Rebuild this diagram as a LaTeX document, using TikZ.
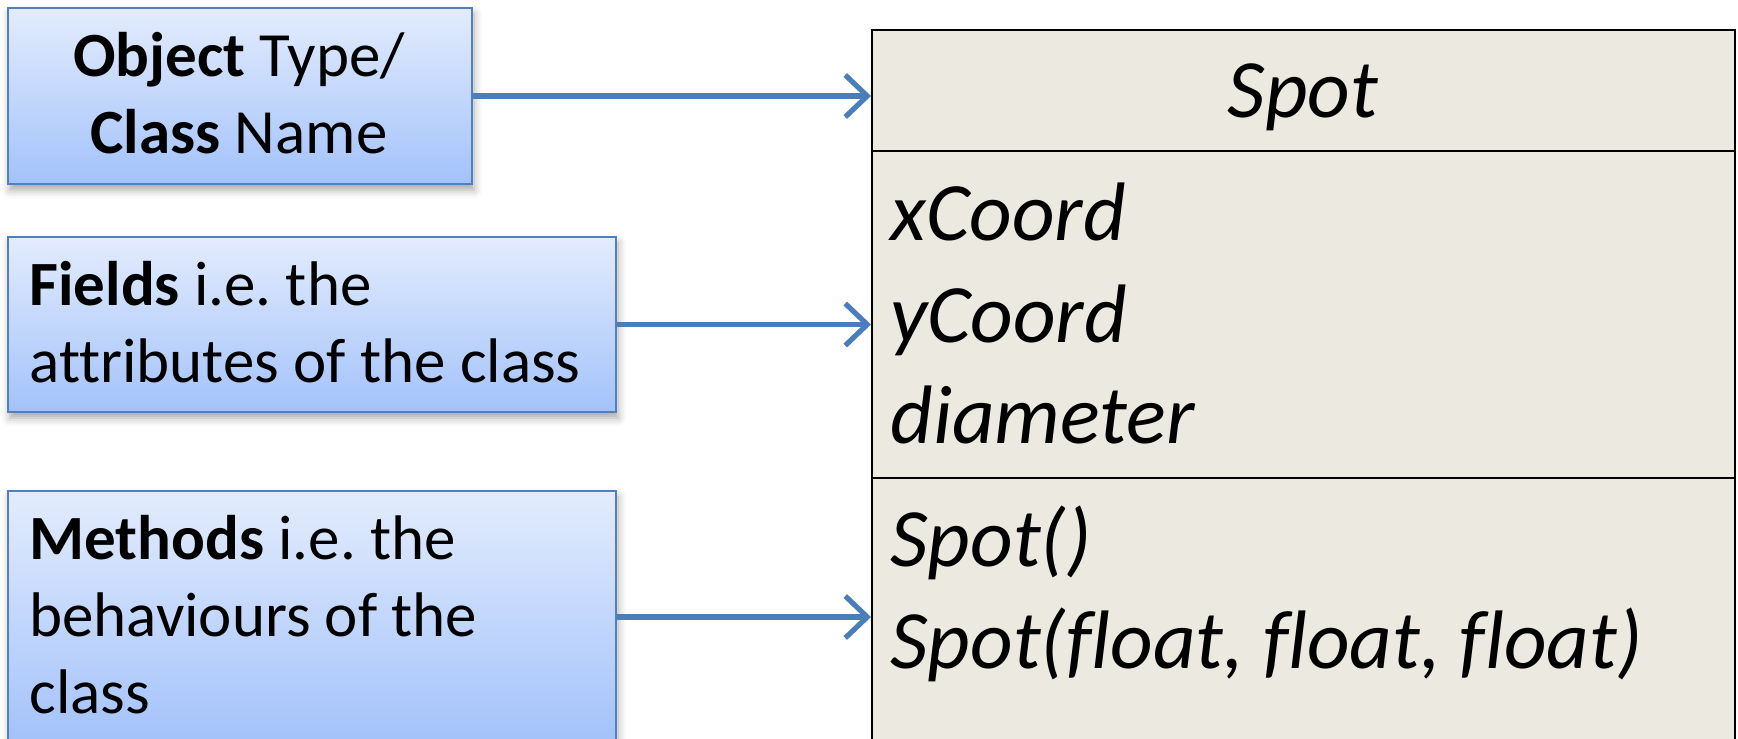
\documentclass[tikz,border=0pt]{standalone}
\usepackage{fontspec}
\setmainfont{Carlito}[Ligatures=NoCommon]
\frenchspacing
\usetikzlibrary{arrows.meta,shadows.blur}
\definecolor{boxtop}{RGB}{227,236,253}
\definecolor{boxbot}{RGB}{163,194,250}
\definecolor{boxline}{RGB}{79,129,189}
\definecolor{arrowblue}{RGB}{74,126,187}
\definecolor{classfill}{RGB}{236,234,224}
\tikzset{
  notebox/.style={draw=boxline, line width=1pt, top color=boxtop, bottom color=boxbot,
    anchor=north west, inner sep=0pt,
    blur shadow={shadow xshift=1pt, shadow yshift=-3pt, shadow blur radius=4pt, shadow opacity=35}},
  lefttext/.style={inner sep=0pt, font=\fontsize{31.5}{38.5}\selectfont},
  classtext/.style={inner sep=0pt, font=\fontsize{41.5}{51}\selectfont\itshape, anchor=base west},
  pointer/.style={draw=arrowblue, line width=2.6pt, -{Straight Barb[length=11pt,width=21pt]}},
  classline/.style={draw=black, line width=1pt}
}
\begin{document}
\begin{tikzpicture}[x=0.5pt,y=-0.5pt]
\path[use as bounding box, clip] (0,0) rectangle (1738,738);
% class box
\node[classline, fill=classfill, anchor=north west, inner sep=0pt,
      minimum width=431.5pt, minimum height=380pt] (classbox) at (871,29) {};
\coordinate (d1l) at (871,151);
\coordinate (d1r) at (1734,151);
\coordinate (d2l) at (871,478);
\coordinate (d2r) at (1734,478);
\draw[classline] (d1l) -- (d1r);
\draw[classline] (d2l) -- (d2r);
% left boxes
\node[notebox, minimum width=232pt, minimum height=88pt] (objbox) at (7,7) {};
\node[notebox, minimum width=304pt, minimum height=87.5pt] (fieldbox) at (7,236) {};
\node[notebox, minimum width=304pt, minimum height=126pt] (methbox) at (7,490) {};
% left texts
\node[lefttext, anchor=base] (t1a) at (239,76) {\textbf{Object} Type/};
\node[lefttext, anchor=base] (t1b) at (239,153) {\textbf{Class} Name};
\node[lefttext, anchor=base west] (t2a) at (29,305) {\textbf{Fields} i.e. the};
\node[lefttext, anchor=base west] (t2b) at (29,382) {attributes of the class};
\node[lefttext, anchor=base west] (t3a) at (29,559) {\textbf{Methods} i.e. the};
\node[lefttext, anchor=base west] (t3b) at (29,636) {behaviours of the};
\node[lefttext, anchor=base west] (t3c) at (29,713) {class};
% class texts
\node[classtext, anchor=base] (ctitle) at (1303,118) {Spot};
\node[classtext] (cf1) at (890,240) {xCoord};
\node[classtext] (cf2) at (890,342) {yCoord};
\node[classtext] (cf3) at (890,443) {diameter};
\node[classtext] (cm1) at (890,566) {Spot()};
\node[classtext] (cm2) at (890,668) {Spot(float, float, float)};
% connectors
\draw[pointer] (objbox.east) -- (objbox.east -| classbox.west);
\draw[pointer] (fieldbox.east) -- (fieldbox.east -| classbox.west);
\draw[pointer] (methbox.east) -- (methbox.east -| classbox.west);
\end{tikzpicture}
\end{document}
